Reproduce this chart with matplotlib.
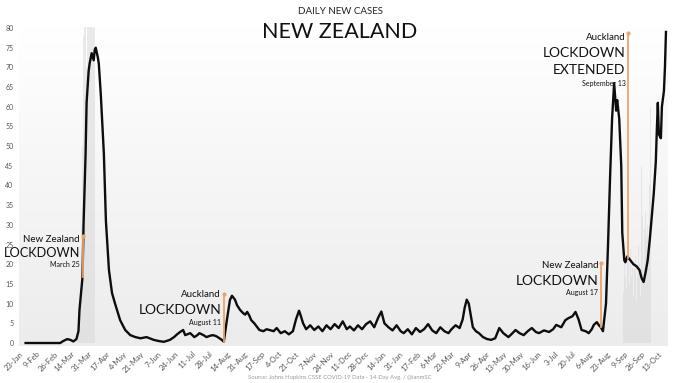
import numpy as np
import pandas as pd
import matplotlib
matplotlib.use("Agg")
import matplotlib.pyplot as plt
from matplotlib.colors import LinearSegmentedColormap

FONT = ["Lato", "DejaVu Sans"]
plt.rcParams["font.family"] = FONT

start = pd.Timestamp("2020-01-23")

# 14-day average line: days since 23-Jan-2020 and cases
avg_days = [6, 20, 40, 43, 47, 50, 53, 56, 58, 59, 61, 62, 63, 65, 66, 68, 69, 71, 73, 74,
            75, 77, 78, 80, 83, 85, 88, 91, 94, 99, 104, 109, 114, 119, 125, 132, 137, 142, 148,
            152, 155, 158, 161, 163, 166, 168, 172, 175, 177, 181, 184, 187, 190, 193, 195, 199,
            201, 204, 207, 209, 212, 214, 217, 220, 222, 224, 226, 228, 231, 234, 236, 240, 243,
            246, 250, 253, 257, 261, 265, 269, 272, 275, 276, 279, 282, 286, 290, 294, 298, 302,
            306, 310, 314, 318, 322, 325, 329, 333, 337, 341, 345, 349, 353, 356, 359, 363, 367,
            371, 375, 378, 382, 386, 390, 394, 398, 402, 406, 410, 414, 418, 422, 425, 429, 433,
            436, 438, 440, 442, 444, 446, 449, 452, 456, 460, 464, 468, 470, 472, 476, 481, 485,
            488, 492, 496, 500, 504, 508, 511, 516, 521, 525, 528, 533, 537, 540, 544, 547, 550,
            553, 557, 560, 563, 565, 568, 570, 572, 574, 577, 579, 581, 583, 585, 587, 588, 590,
            592, 593, 595, 596, 598, 601, 604, 607, 610, 612, 614, 616, 618, 620, 622, 624, 626,
            627, 628, 629, 631, 632, 634, 635, 636]
avg_vals = [0, 0, 0, 0.5, 1.0, 0.8, 0.4, 1.0, 3, 8.4, 14, 16.8, 30, 48, 61, 69, 71, 73.6, 71.8, 74.4,
            75, 72.6, 71, 63, 48, 31, 18.5, 12.7, 10, 5.8, 3.3, 2, 1.5, 1.2, 1.5, 0.8, 0.5, 0.3, 0.8,
            1.5, 2.2, 2.8, 3.3, 2, 2.3, 2.5, 1.5, 2, 2.5, 2, 1.5, 1.8, 2, 1.8, 1.5, 0.8,
            0.3, 5.8, 10.9, 12, 11, 9.6, 8.4, 7.6, 7.2, 7.9, 7, 5.8, 5, 4, 3.3, 3, 3.5,
            3.3, 3, 3.8, 2.5, 3, 2.2, 3, 6, 8.2, 7.5, 5, 3.5, 4.5, 3.3, 4.2, 3, 4.5,
            3.5, 4.8, 3.8, 5.5, 3.5, 4.2, 3.2, 4.5, 3.5, 4.8, 5.5, 4, 6.5, 8, 5, 4, 3.2,
            4.5, 3, 2.5, 3.5, 2.2, 3.8, 2.8, 3.5, 4.8, 3.2, 2.5, 4, 3, 2.5, 3.5, 4.5, 3.8,
            6, 9, 11, 10, 7, 4, 3, 2.5, 1.5, 1, 0.8, 1.2, 2.5, 3.8, 2.5, 1.5, 2.5,
            3.3, 2.5, 2, 3, 3.8, 2.8, 2.5, 3.2, 2.8, 3.5, 4.6, 4, 5.8, 6.3, 6.8, 7.9, 6,
            3.3, 3, 2.5, 3.5, 4.6, 5.3, 4.5, 4, 3, 10, 25, 42, 57, 66, 59, 61.7, 57,
            45, 28, 21, 20.5, 22, 21, 20, 19.5, 18.5, 16.5, 15.5, 18, 21, 26, 32, 38, 46,
            54, 61, 53, 52, 60, 64, 70, 79]

# daily new cases (faint bars), three visible stretches
daily_a_start = 57
daily_a = [1, 3, 8, 14, 30, 50, 78, 85, 83, 70, 82, 88, 89, 85, 90, 89, 80, 82, 86, 81, 84, 83,
           80, 84, 82, 81, 60, 40, 30, 22, 18, 15, 12, 9, 8, 6, 5, 4, 3, 2, 3, 2, 1, 1, 2, 1, 1, 0]
daily_b_start = 201
daily_b = [2, 13, 14, 7, 13, 6, 20, 12, 6, 5, 9, 13, 12, 5, 7, 5, 9, 3, 2, 4, 6, 5, 3, 2, 4]
daily_c_start = 574
daily_c = [1, 7, 11, 21, 35, 41, 63, 70, 83, 85, 53, 49, 83, 81, 32, 25, 20, 28, 21, 23, 13, 20,
           17, 14, 22, 26, 15, 24, 17, 19, 12, 19, 22, 11, 17, 25, 20, 12, 45, 32, 19, 29, 33, 27,
           30, 26, 40, 60, 55, 71, 48, 43, 85, 38, 51, 60, 60, 94, 75, 79, 58, 102, 85, 90]

tick_labels = ["23-Jan", "9-Feb", "26-Feb", "14-Mar", "31-Mar", "17-Apr", "4-May", "21-May",
               "7-Jun", "24-Jun", "11-Jul", "28-Jul", "14-Aug", "31-Aug", "17-Sep", "4-Oct",
               "21-Oct", "7-Nov", "24-Nov", "11-Dec", "28-Dec", "14-Jan", "31-Jan", "17-Feb",
               "6-Mar", "23-Mar", "9-Apr", "26-Apr", "13-May", "30-May", "16-Jun", "3-Jul",
               "20-Jul", "6-Aug", "23-Aug", "9-Sep", "26-Sep", "13-Oct"]
yticks = list(range(0, 81, 5))

event_dates = ["2020-03-25", "2020-08-11", "2021-08-17", "2021-09-13"]
event_tops = [27.2, 12.4, 20.3, 78.7]
event_small = ["New Zealand", "Auckland", "New Zealand", "Auckland"]
event_big = [["LOCKDOWN"], ["LOCKDOWN"], ["LOCKDOWN"], ["LOCKDOWN", "EXTENDED"]]
event_date_text = ["March 25", "August 11", "August 17", "September 13"]

# ---------------------------------------------------------------- figure
fig = plt.figure(figsize=(6.8, 3.83), dpi=100)
fig.patch.set_facecolor("white")
ax = fig.add_axes([19 / 680, 1 - 346 / 383, 649 / 680, 319 / 383])
ax.set_xlim(-0.5, 638)
ax.set_ylim(-0.76, 80.25)

cmap = LinearSegmentedColormap.from_list("bg", ["#ececec", "#ffffff"])
grad = np.linspace(0, 1, 256).reshape(-1, 1)
ax.imshow(grad, extent=[0, 1, 0, 1], transform=ax.transAxes, origin="lower",
          aspect="auto", cmap=cmap, zorder=0, interpolation="bicubic")

for s0, vals in [(daily_a_start, daily_a), (daily_b_start, daily_b), (daily_c_start, daily_c)]:
    ax.bar(np.arange(s0, s0 + len(vals)), vals, width=0.45, color="#d9d9d9", alpha=0.55,
           edgecolor="none", zorder=1)

ax.plot(avg_days, avg_vals, color="#0d0d0d", lw=1.7, solid_joinstyle="round", zorder=3)

for d, top in zip(event_dates, event_tops):
    dx = (pd.Timestamp(d) - start).days
    bottom = float(np.interp(dx, avg_days, avg_vals))
    ax.plot([dx, dx], [bottom, top], color="#f1a16b", lw=1.3, zorder=4)
    ax.plot([dx], [top], marker="o", ms=2, color="#f1a16b", zorder=4)


def label(dx, y, s, size, color="#111111"):
    ax.annotate(s, xy=(dx, y), xytext=(-2, 0), textcoords="offset points",
                ha="right", va="center", fontsize=size, color=color, zorder=5)


d0 = (pd.Timestamp(event_dates[0]) - start).days
label(d0, 26.4, event_small[0], 7)
label(d0, 22.8, event_big[0][0], 9.2)
label(d0, 20.0, event_date_text[0], 5)

d1 = (pd.Timestamp(event_dates[1]) - start).days
label(d1, 12.2, event_small[1], 7)
label(d1, 8.4, event_big[1][0], 10)
label(d1, 5.1, event_date_text[1], 5)

d2 = (pd.Timestamp(event_dates[2]) - start).days
label(d2, 19.8, event_small[2], 7)
label(d2, 15.7, event_big[2][0], 10)
label(d2, 12.7, event_date_text[2], 5)

d3 = (pd.Timestamp(event_dates[3]) - start).days
label(d3, 77.7, event_small[3], 7)
label(d3, 73.6, event_big[3][0], 10)
label(d3, 69.3, event_big[3][1], 10)
label(d3, 66.0, event_date_text[3], 5)

for sp in ax.spines.values():
    sp.set_visible(False)
ax.set_yticks(yticks)
ax.set_yticklabels([str(v) for v in yticks], fontsize=5, color="#555555")
ax.set_xticks([17 * k for k in range(len(tick_labels))])
ax.set_xticklabels(tick_labels, fontsize=5.5, color="#555555", rotation=45, ha="right",
                   rotation_mode="anchor")
ax.tick_params(axis="both", length=0)
ax.tick_params(axis="y", pad=4)
ax.tick_params(axis="x", pad=3)

fig.text(340 / 680, 1 - 11 / 383, "DAILY NEW CASES", ha="center", va="center",
         fontsize=7, color="#222222")
fig.text(340 / 680, 1 - 32 / 383, "NEW ZEALAND", ha="center", va="center",
         fontsize=15.5, color="#111111")
fig.text(340 / 680, 1 - 377 / 383,
         "Source: Johns Hopkins CSSE COVID-19 Data - 14-Day Avg. / @ianmSC",
         ha="center", va="center", fontsize=4.2, color="#9a9a9a")

fig.savefig("out.png", dpi=100)
